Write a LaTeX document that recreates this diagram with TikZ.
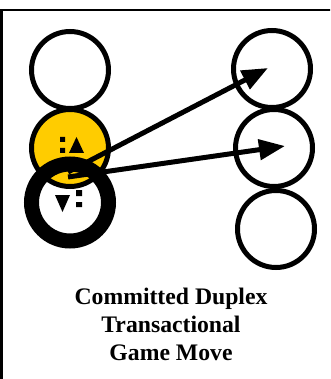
\documentclass[tikz,border=0pt]{standalone}
\usepackage{fontspec}
\setmainfont{Liberation Serif}
\usetikzlibrary{arrows.meta,positioning}
\definecolor{gold}{HTML}{FFCC00}

\begin{document}
\begin{tikzpicture}[
  x=1pt,y=-1pt,
  slot/.style={draw,circle,line width=5pt,minimum size=77pt,inner sep=0pt},
  heldslot/.style={slot,fill=gold},
  commitslot/.style={slot,line width=15pt},
  move/.style={-{Triangle[length=26pt,width=20pt]},line width=5pt},
  caption/.style={align=center,font=\fontsize{23.7}{28}\selectfont\bfseries}]
\useasboundingbox (0,0) rectangle (330,379);
\clip (0,0) rectangle (330,379);
\draw[line width=2.5pt] (1.5,10) rectangle (345,395);
% left column
\node[slot] (l1) at (70,70) {};
\node[heldslot] (l2) at (70,148) {};
\node[commitslot] (l3) at (70,202.5) {};
% right column
\node[slot] (r1) at (272,69) {};
\node[slot] (r2) at (274,148) {};
\node[slot] (r3) at (276,229) {};
% marks
\fill (60,137) rectangle (65,142) (60,148) rectangle (65,153);
\fill (76.5,137) -- (84,153) -- (69,153) -- cycle;
\fill (76,190) rectangle (82,196) (76,202) rectangle (82,207);
\fill (55,195) -- (70,195) -- (62.5,212) -- cycle;
% moves
\coordinate (s1) at (68,172);
\coordinate (s2) at (68,177);
\coordinate (t1) at (268,68);
\coordinate (t2) at (285,146);
\draw[move] (s1) -- (t1);
\draw[move] (s2) -- (t2);
\node[caption] (cap) at (171,324) {Committed Duplex\\Transactional\\Game Move};
\end{tikzpicture}
\end{document}
